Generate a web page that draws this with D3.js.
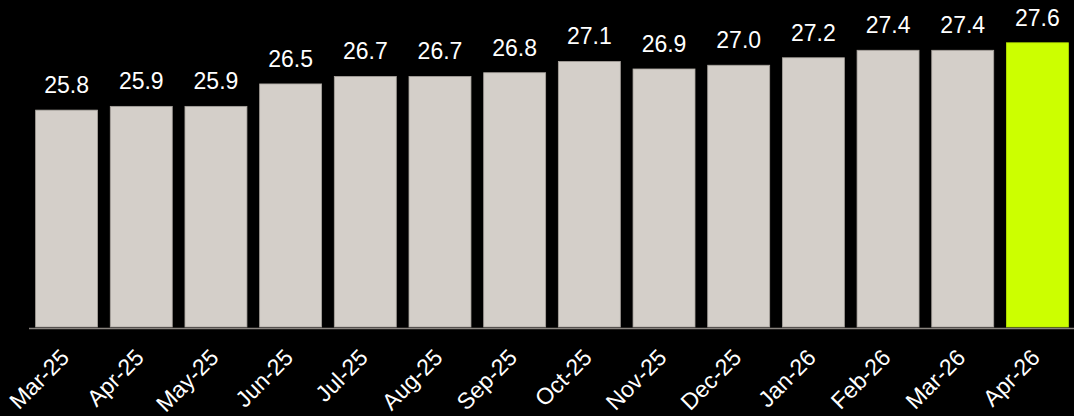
<!DOCTYPE html>
<html lang="en">
<head>
    <meta charset="UTF-8">
    <title>Monthly values Mar-25 to Apr-26</title>
    <script src="https://cdn.jsdelivr.net/npm/d3@7"></script>
    <style>
        html, body { margin: 0; padding: 0; background: #000; }
        text { font-family: "Liberation Sans", Arial, Helvetica, sans-serif; fill: #fff; }
    </style>
</head>
<body>
<div class="container"></div>
<script>
    // data
    const months = ["Mar-25","Apr-25","May-25","Jun-25","Jul-25","Aug-25","Sep-25",
        "Oct-25","Nov-25","Dec-25","Jan-26","Feb-26","Mar-26","Apr-26"]
    const values = [25.8, 25.9, 25.9, 26.5, 26.7, 26.7, 26.8, 27.1, 26.9, 27.0, 27.2, 27.4, 27.4, 27.6]
    const highlight = "Apr-26"

    const width = 1074, height = 416
    const baseY = 327

    const svg = d3.select('.container')
        .append("svg")
        .attr("width", width)
        .attr("height", height)
        .style("display", "block")
        .style("background", "#000")

    const x = d3.scaleBand()
        .domain(months)
        .range([30, 1074])
        .paddingInner(0.17)
        .paddingOuter(0.075)

    // axis does not start at zero in the original
    const y = d3.scaleLinear()
        .domain([20, 27.6])
        .range([baseY, 42.8])

    const data = months.map((m, i) => ({month: m, value: values[i]}))

    // bars
    svg.append("g").selectAll("rect")
        .data(data)
        .join("rect")
        .attr("x", d => x(d.month))
        .attr("y", d => y(d.value))
        .attr("width", x.bandwidth())
        .attr("height", d => baseY - y(d.value))
        .attr("fill", d => d.month === highlight ? "#ccff00" : "#d4cfc9")
        .attr("stroke", d => d.month === highlight ? "#b8e600" : "#a8a39d")
        .attr("stroke-width", 0.8)

    // value labels
    svg.append("g").selectAll("text")
        .data(data)
        .join("text")
        .attr("x", d => x(d.month) + x.bandwidth() / 2)
        .attr("y", d => y(d.value) - 17)
        .attr("text-anchor", "middle")
        .style("font-size", "23px")
        .text(d => d.value.toFixed(1))

    // baseline
    svg.append("line")
        .attr("x1", 29).attr("x2", 1074)
        .attr("y1", baseY + 1.5).attr("y2", baseY + 1.5)
        .attr("stroke", "#8a8580")
        .attr("stroke-width", 1.5)

    // rotated month labels
    svg.append("g").selectAll("text")
        .data(months)
        .join("text")
        .attr("transform", d => `translate(${x(d) + x.bandwidth() / 2 + 4},${359})rotate(-45)`)
        .attr("text-anchor", "end")
        .style("font-size", "23px")
        .text(d => d)
</script>
</body>
</html>
